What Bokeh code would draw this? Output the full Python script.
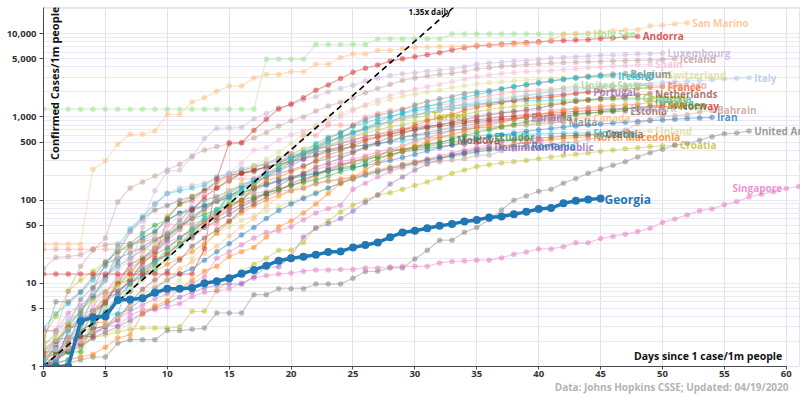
import math
from bokeh.plotting import figure
from bokeh.models import FixedTicker, NumeralTickFormatter, Label, Range1d, Title
from bokeh.embed import file_html
from bokeh.resources import INLINE
from bokeh.core.properties import value

# ---------------- data (cases per 1m people, day 0 = first day >= 1/1m) -------------
x_ticks = [0, 5, 10, 15, 20, 25, 30, 35, 40, 45, 50, 55, 60]
y_ticks = [1, 5, 10, 50, 100, 500, 1000, 5000, 10000]
y_minor = [2, 3, 4, 6, 7, 8, 9, 20, 30, 40, 60, 70, 80, 90, 200, 300, 400, 600, 700, 800, 900,
           2000, 3000, 4000, 6000, 7000, 8000, 9000, 20000]
growth_rate = 1.35

san_marino = [29.5, 29.5, 29.5, 29.5, 235, 296, 470, 620, 620, 680, 1070, 1070, 1510, 1700, 2040, 2350, 2350,
              2950, 3250, 3250, 3500, 3500, 4300, 4300, 5200, 5700, 5700, 6300, 6300, 6600, 6900, 6900, 7000,
              7000, 7100, 7300, 7300, 7300, 7400, 7500, 7700, 8500, 9800, 10000, 10200, 10500, 10800, 11100,
              11200, 12400, 12700, 13100, 13600]
holy_see = [1240, 1240, 1240, 1240, 1240, 1240, 1240, 1240, 1240, 1240, 1240, 1240, 1240, 1240, 1240, 1240,
            1240, 1240, 4950, 4950, 4950, 4950, 7430, 7430, 7430, 7430, 7430, 8670, 8670, 8670, 8670, 8670,
            8670, 9910, 9910, 9910, 9910, 9910, 9910, 9910, 9910, 9910, 9910, 9910, 9910]
andorra = [12.9, 12.9, 12.9, 12.9, 12.9, 12.9, 12.9, 12.9, 12.9, 12.9, 12.9, 12.9, 12.9, 26, 180, 490, 490,
           690, 940, 1250, 1430, 1700, 2100, 2430, 2900, 3450, 3850, 4200, 4700, 5000, 5300, 5600, 5930, 6400,
           6800, 7140, 7300, 7500, 7700, 7850, 8000, 8200, 8300, 8400, 8500, 8800, 8950, 9100, 9300]
luxembourg = [1.6, 1.6, 1.6, 3.2, 4.8, 11, 21, 42, 56, 130, 220, 230, 330, 550, 730, 740, 750, 950, 1100, 1290,
              1400, 1600, 1750, 2000, 2200, 2400, 2700, 2950, 3150, 3300, 3400, 3550, 3650, 3800, 4000, 4300,
              4450, 4550, 4700, 4750, 4900, 5100, 5200, 5300, 5400, 5500, 5550, 5600, 5700, 5750, 5830]
iceland = [2.7, 2.7, 8, 16, 25, 35, 95, 140, 165, 195, 230, 270, 340, 400, 440, 470, 490, 560, 650, 780, 900,
           1000, 1180, 1350, 1500, 1700, 1950, 2200, 2450, 2750, 2950, 3100, 3250, 3350, 3500, 3770, 3900, 4050,
           4150, 4250, 4350, 4450, 4500, 4550, 4600, 4650, 4700, 4750, 4800, 4850, 4920, 5000]
spain = [1.0, 1.3, 2.2, 3.3, 5.5, 7.3, 12, 13, 22, 36, 49, 65, 93, 120, 170, 210, 280, 400, 430, 530, 610, 680,
         750, 850, 1000, 1200, 1400, 1600, 1800, 2000, 2150, 2300, 2460, 2650, 2850, 3050, 3200, 3320, 3420,
         3500, 3550, 3600, 3700, 3800, 3900, 4000, 4100, 4150, 4230, 4300]
ireland = [1.2, 1.2, 2.6, 3.9, 3.9, 4.5, 7, 9.8, 14, 18, 26, 35, 46, 60, 76, 113, 138, 172, 208, 250, 310, 370,
           430, 500, 580, 650, 740, 870, 1000, 1120, 1240, 1350, 1450, 1580, 1720, 1860, 2000, 2170, 2320, 2450,
           2580, 2720, 2850, 2930, 3000, 3080, 3130]
belgium = [1.0, 1.1, 1.9, 4.3, 8.6, 17, 20, 23, 27, 34, 39, 48, 60, 77, 97, 107, 140, 160, 190, 230, 290, 350,
           420, 550, 640, 790, 930, 1050, 1120, 1220, 1400, 1530, 1650, 1750, 1920, 2000, 2080, 2180, 2300, 2430,
           2550, 2700, 2820, 2960, 3080, 3200, 3280, 3330]
switzerland = [1.0, 2.1, 2.8, 3.4, 4.3, 6.9, 9.1, 12, 24, 30, 39, 44, 60, 75, 100, 130, 160, 260, 310, 380, 480,
               620, 800, 950, 1100, 1250, 1350, 1450, 1620, 1770, 1880, 2000, 2100, 2250, 2370, 2490, 2570, 2630,
               2700, 2780, 2850, 2900, 2960, 3000, 3050, 3080, 3120, 3140, 3170, 3200, 3220]
italy = [1.03, 2.6, 3.8, 5.3, 7.5, 10.9, 14.7, 18.7, 28.1, 33.7, 41.5, 51.2, 63.9, 76.8, 97.5, 122, 152, 168,
         206, 206, 293, 350, 410, 464, 522, 592, 681, 779, 888, 980, 1059, 1146, 1232, 1335, 1433, 1532, 1618,
         1685, 1753, 1832, 1909, 1985, 2065, 2136, 2196, 2246, 2310, 2380, 2445, 2523, 2590, 2643, 2692, 2736,
         2799, 2857, 2915, 2965]
united_states = [1.2, 1.6, 2.0, 2.9, 3.8, 5.0, 6.6, 8.2, 11, 14, 20, 29, 45, 59, 76, 100, 130, 165, 210, 260,
                 310, 370, 430, 500, 570, 640, 720, 800, 890, 970, 1040, 1110, 1190, 1270, 1350, 1420, 1500, 1580,
                 1690, 1790, 1900, 2050, 2250, 2400]
monaco = [25.6, 25.6, 25.6, 25.6, 25.6, 25.6, 25.6, 25.6, 25.6, 25.6, 51, 51, 51, 51, 51, 180, 180, 180, 230,
          280, 360, 600, 600, 800, 800, 800, 1000, 1100, 1200, 1250, 1300, 1350, 1400, 1450, 1600, 1700, 1800,
          1900, 2000, 2050, 2100, 2150, 2200, 2250, 2300, 2300, 2350, 2350, 2400, 2400, 2400]
france = [1.5, 2.0, 2.9, 3.1, 4.4, 6.0, 9.9, 11, 18, 22, 27, 35, 44, 55, 69, 83, 100, 140, 170, 190, 220, 250,
          300, 350, 390, 450, 520, 570, 610, 690, 790, 900, 990, 1060, 1200, 1300, 1380, 1480, 1580, 1650, 1690,
          1720, 1810, 1900, 1990, 2050, 2110, 2170, 2210, 2260, 2300]
portugal = [1.3, 2.0, 2.9, 3.9, 4.0, 5.9, 7.8, 11, 17, 24, 33, 44, 64, 80, 100, 120, 150, 180, 210, 230, 260,
            310, 400, 500, 560, 640, 720, 820, 880, 1000, 1060, 1130, 1210, 1250, 1300, 1380, 1450, 1530, 1600,
            1690, 1760, 1830, 1870, 1940, 2000]
netherlands = [1.0, 1.4, 2.2, 2.3, 4.6, 6.9, 7.5, 11, 15, 19, 22, 30, 35, 47, 56, 67, 83, 100, 120, 150, 180,
               210, 250, 280, 320, 370, 430, 500, 570, 640, 700, 760, 810, 870, 930, 1000, 1060, 1110, 1160,
               1220, 1280, 1380, 1460, 1530, 1600, 1680, 1730, 1800, 1850, 1900]
germany = [1.8, 2.4, 3.2, 4.8, 6.3, 8.0, 10, 14, 14, 17, 25, 30, 42, 56, 70, 87, 100, 150, 190, 250, 290, 350,
           400, 450, 520, 580, 640, 700, 760, 810, 860, 920, 960, 1010, 1080, 1150, 1220, 1290, 1340, 1370, 1410,
           1450, 1500, 1550, 1580, 1620, 1650, 1680, 1700]
austria = [1.0, 1.1, 1.2, 2.7, 3.4, 4.2, 4.3, 11, 12, 15, 20, 28, 40, 56, 75, 90, 120, 140, 230, 280, 340, 370,
           480, 570, 650, 770, 850, 950, 1010, 1100, 1180, 1240, 1300, 1360, 1410, 1440, 1480, 1520, 1540, 1560,
           1570, 1580, 1600, 1610, 1620, 1630, 1640, 1645, 1650, 1660]
israel = [1.0, 1.1, 1.2, 1.3, 1.4, 1.7, 2.2, 2.4, 4.3, 5.3, 6.2, 8.6, 11, 14, 16, 21, 24, 27, 36, 48, 56, 70, 90,
          120, 160, 190, 230, 280, 330, 390, 440, 500, 560, 620, 680, 750, 800, 860, 930, 1000, 1070, 1150, 1200,
          1260, 1300, 1340, 1370, 1400, 1430, 1490]
sweden = [1.3, 1.4, 1.5, 1.5, 3.3, 5.9, 9.7, 13, 20, 25, 35, 49, 60, 67, 77, 90, 100, 110, 120, 135, 150, 165,
          175, 195, 220, 240, 270, 310, 350, 390, 430, 460, 490, 540, 600, 650, 700, 760, 820, 880, 920, 960,
          1000, 1060, 1100, 1150, 1200, 1250, 1300, 1350, 1400]
denmark = [1.7, 2.6, 3.5, 4.3, 4.7, 6.0, 11, 15, 47, 90, 120, 140, 150, 160, 180, 200, 240, 260, 270, 320, 350,
           380, 420, 450, 490, 530, 570, 620, 680, 730, 770, 820, 880, 940, 1000, 1050, 1100, 1130, 1160, 1180,
           1200, 1220, 1240, 1250, 1260, 1270, 1275, 1280]
norway = [1.1, 1.1, 2.8, 3.5, 4.6, 5.7, 10, 17, 20, 27, 37, 46, 75, 110, 140, 170, 210, 230, 250, 280, 320, 370,
          410, 440, 480, 530, 580, 620, 660, 710, 740, 770, 800, 840, 880, 920, 960, 1000, 1030, 1060, 1080, 1110,
          1140, 1170, 1190, 1210, 1240, 1260, 1280, 1300, 1320, 1340]
estonia = [1.5, 1.5, 1.5, 2.3, 2.3, 7.5, 8.3, 10, 12, 20, 60, 90, 100, 130, 170, 200, 210, 230, 250, 270, 290,
           320, 350, 400, 440, 490, 540, 580, 630, 660, 700, 740, 770, 800, 850, 880, 910, 940, 970, 1000, 1030,
           1060, 1080, 1100, 1120, 1140, 1160, 1180]
bahrain = [15, 20.5, 21, 22, 26, 29, 30, 30, 32, 34, 37, 52, 52, 58, 67, 119, 119, 119, 128, 130, 130, 139, 156,
           170, 174, 186, 204, 230, 239, 255, 279, 284, 290, 304, 314, 346, 347, 392, 410, 420, 427, 461, 495,
           502, 541, 564, 634, 693, 830, 932, 1019, 1037, 1061, 1147, 1200]
iran = [1.1, 1.7, 3.0, 4.7, 7.1, 11.8, 18.1, 28.1, 35.2, 42.3, 57.2, 70.2, 79.1, 86.3, 96.9, 108, 121, 137, 153,
        168, 181, 195, 209, 222, 237, 248, 261, 278, 299, 326, 354, 390, 427, 462, 500, 537, 573, 608, 641, 672,
        702, 729, 754, 778, 798, 822, 844, 864, 883, 902, 920, 940, 958, 974, 990]
canada = [1.2, 1.4, 1.6, 2.0, 2.5, 3.1, 4.0, 5.1, 7.4, 9.3, 11, 15, 18, 23, 28, 37, 48, 60, 85, 110, 130, 160,
          190, 220, 250, 290, 320, 350, 390, 440, 490, 530, 580, 620, 650, 680, 720, 750, 790, 830, 870, 900, 930,
          960, 980]
malta = [2.0, 6.0, 6.0, 8, 12, 18, 24, 42, 60, 76, 86, 100, 110, 130, 140, 180, 210, 220, 250, 270, 290, 310,
         340, 380, 410, 440, 460, 480, 500, 570, 600, 620, 650, 690, 710, 740, 750, 770, 790, 800, 830, 850, 870]
serbia = [2.7, 2.7, 4.4, 5.4, 6.9, 7.9, 12, 15, 19, 24, 31, 36, 43, 53, 65, 80, 100, 130, 150, 170, 190, 210,
          230, 260, 290, 310, 340, 380, 410, 450, 510, 560, 620, 680, 730, 780, 830, 880, 930, 980]
czechia = [1.0, 1.2, 1.7, 1.9, 2.9, 3.0, 3.6, 5.9, 8.5, 11, 14, 19, 28, 35, 44, 56, 76, 90, 110, 130, 160, 180,
           200, 240, 270, 290, 310, 330, 350, 380, 400, 420, 440, 460, 470, 490, 500, 520, 530, 550, 560, 570,
           590, 600, 610, 620]
slovenia = [2.9, 4.3, 5.7, 7.7, 11, 16, 28, 45, 63, 90, 120, 130, 140, 150, 190, 210, 230, 250, 270, 300, 330,
            350, 380, 400, 420, 440, 460, 480, 500, 520, 540, 560, 570, 580, 590, 600, 605, 610, 615, 620, 625,
            630, 635, 638, 640]
north_macedonia = [1.4, 1.4, 1.9, 1.9, 3.4, 3.4, 6.7, 9.6, 14, 14, 17, 20, 24, 30, 40, 55, 70, 85, 100, 115,
                   130, 140, 160, 170, 180, 190, 210, 230, 250, 270, 290, 310, 330, 350, 370, 400, 420, 450, 470,
                   490, 510, 530, 550, 565, 580]
finland = [1.1, 1.1, 1.2, 1.3, 2.7, 2.7, 2.7, 3.3, 4.4, 5.5, 7.6, 11, 20, 28, 40, 48, 57, 65, 75, 83, 95, 110,
           125, 140, 160, 180, 200, 215, 230, 240, 260, 280, 300, 330, 350, 380, 410, 440, 470, 500, 530, 550,
           570, 590, 610, 630, 640, 660, 670, 680]
croatia = [1.0, 1.2, 1.5, 1.7, 2.2, 2.4, 2.6, 2.8, 2.9, 2.9, 2.9, 3.0, 4.6, 4.6, 8.2, 11, 14, 17, 20, 25, 25,
           31, 47, 56, 72, 87, 100, 115, 123, 135, 150, 165, 185, 210, 230, 253, 267, 280, 290, 300, 315, 330,
           343, 355, 370, 385, 400, 415, 425, 440, 450, 460]
uae = [1.0, 1.0, 1.1, 1.2, 1.3, 1.3, 1.9, 2.1, 2.1, 2.1, 2.7, 2.7, 2.8, 2.9, 4.4, 4.4, 4.4, 7.3, 7.3, 8.6, 8.6,
       8.6, 9.8, 9.8, 9.8, 11.5, 13.9, 14, 15.3, 15.3, 19.6, 25, 33, 33, 41, 47, 58, 76, 100, 112, 128, 135, 160,
       182, 210, 236, 262, 290, 331, 372, 410, 457, 480, 525, 580, 630, 640, 680]
singapore = [1.2, 1.7, 2.2, 2.8, 2.8, 3.1, 3.1, 4.1, 4.8, 4.8, 5.2, 5.7, 6.9, 7.8, 8.1, 8.6, 10, 11.6, 12.4,
             12.9, 13.3, 14, 14.5, 14.5, 14.7, 14.7, 15.3, 15.3, 15.7, 16, 16, 16, 17.6, 18.3, 18.6, 19, 19, 20.2,
             22.4, 23.8, 25.9, 25.9, 27.6, 30.7, 30.7, 34.5, 36.6, 39, 41.9, 45.9, 54, 59.5, 66.4, 74.5, 78.4,
             87.8, 96.2, 109, 118, 126, 138, 146, 152]
chile = [1.0, 1.2, 1.5, 2.0, 2.4, 3.0, 3.8, 4.6, 5.5, 6.5, 7.5, 8.5, 10, 12, 20, 24, 29, 35, 41, 43, 48, 58, 70,
         79, 87, 135, 160, 190, 220, 250, 280, 310, 340, 370, 400, 430, 460, 500, 530]
dominican_republic = [1.0, 1.2, 1.5, 1.8, 2.2, 2.6, 3.0, 3.6, 4.3, 5.0, 5.8, 6.8, 7.8, 8.8, 9.5, 9.8, 9.8, 12,
                      15.8, 15.8, 21, 36, 46, 52, 60, 74, 94, 115, 156, 190, 230, 270, 310, 350, 380, 410, 433]
moldova = [1.0, 1.4, 2.0, 2.6, 3.4, 4.5, 6, 8, 12, 17, 23, 30, 38, 50, 62, 75, 90, 105, 120, 135, 150, 170, 200,
           230, 260, 290, 320, 350, 380, 410, 440, 470, 500, 530]
ecuador = [1.6, 2.1, 2.2, 3.2, 6.8, 11, 24, 30, 40, 50, 58, 69, 75, 85, 100, 115, 128, 140, 157, 175, 190, 200,
           215, 225, 245, 260, 300, 340, 400, 407, 420, 440, 470, 500, 530, 550, 575]
romania = [1.0, 1.3, 1.5, 2.3, 2.5, 3.0, 4.2, 5.0, 6.5, 8.7, 11, 13, 15, 19, 24, 30, 38, 47, 60, 75, 90, 105,
           120, 140, 160, 180, 200, 220, 240, 260, 280, 300, 320, 340, 360, 380, 400, 420, 440, 450]
turkey = [2.3, 4.0, 8.1, 11, 14, 18, 24, 28, 32, 40, 64, 89, 111, 130, 160, 190, 220, 250, 280, 320, 360, 410,
          460, 520, 580, 650, 720, 790, 860, 930, 990, 1030]
panama = [1.0, 2.0, 3.2, 6.4, 9.0, 12, 16, 20, 25, 32, 40, 57, 80, 100, 110, 130, 150, 170, 190, 210, 230, 260,
          290, 320, 350, 390, 430, 470, 520, 570, 610, 650, 700, 750, 790, 830, 870, 910, 950, 990]
georgia = [1.0, 1.0, 1.0, 3.5, 3.9, 4.0, 6.3, 6.4, 6.6, 7.7, 8.6, 8.6, 8.8, 10.0, 10.6, 11.5, 13.0, 14.5, 16.3,
           18.7, 20.0, 20.9, 22.0, 23.8, 24.2, 27.0, 28.9, 31.0, 35.7, 40.9, 42.8, 46.0, 49.3, 51.5, 55.5, 57.6,
           62, 63.7, 67.8, 72.3, 78.3, 80.4, 91.5, 98.2, 102, 105]

series = [
    ("Croatia", croatia), ("United Arab Emirates", uae), ("Singapore", singapore), ("Finland", finland),
    ("North Macedonia", north_macedonia), ("Slovenia", slovenia), ("Czechia", czechia), ("Chile", chile),
    ("Dominican Republic", dominican_republic), ("Moldova", moldova), ("Ecuador", ecuador),
    ("Romania", romania), ("Turkey", turkey), ("Panama", panama), ("Serbia", serbia), ("Malta", malta),
    ("Canada", canada), ("Iran", iran), ("Bahrain", bahrain), ("Estonia", estonia), ("Norway", norway),
    ("Denmark", denmark), ("Sweden", sweden), ("Israel", israel), ("Austria", austria),
    ("Germany", germany), ("Netherlands", netherlands), ("Portugal", portugal), ("France", france),
    ("Monaco", monaco), ("United States", united_states), ("Italy", italy), ("Switzerland", switzerland),
    ("Belgium", belgium), ("Ireland", ireland), ("Spain", spain), ("Iceland", iceland),
    ("Luxembourg", luxembourg), ("Andorra", andorra), ("Holy See", holy_see), ("San Marino", san_marino),
]

colors = {
    "San Marino": "#ffbb78", "Holy See": "#98df8a", "Andorra": "#d62728", "Luxembourg": "#c5b0d5",
    "Iceland": "#c49c94", "Spain": "#f7b6d2", "Ireland": "#17becf", "Belgium": "#7f7f7f",
    "Switzerland": "#dbdb8d", "Italy": "#aec7e8", "United States": "#98df8a", "Monaco": "#ff9896",
    "France": "#e6550d", "Portugal": "#9467bd", "Netherlands": "#8c564b", "Germany": "#bcbd22",
    "Austria": "#17becf", "Israel": "#ff7f0e", "Sweden": "#2ca02c", "Denmark": "#c5b0d5",
    "Norway": "#d62728", "Estonia": "#8c564b", "Bahrain": "#c49c94", "Iran": "#1f77b4",
    "Canada": "#ffbb78", "Malta": "#7f7f7f", "Serbia": "#e377c2", "Czechia": "#8c564b",
    "Slovenia": "#17becf", "North Macedonia": "#ff7f0e", "Finland": "#dbdb8d", "Croatia": "#bcbd22",
    "United Arab Emirates": "#7f7f7f", "Singapore": "#e377c2", "Chile": "#e377c2",
    "Dominican Republic": "#9467bd", "Moldova": "#8c564b", "Ecuador": "#2ca02c", "Romania": "#1f77b4",
    "Turkey": "#bcbd22", "Panama": "#7f7f7f",
}
highlight_color = "#1f77b4"

# ---------------- figure -------------
X_END = 61.15
Y_TOP = 20700
FONT = "Open Sans"

p = figure(frame_width=757, frame_height=359, x_range=Range1d(0, X_END), y_range=Range1d(1, Y_TOP),
           y_axis_type="log", output_backend="svg", toolbar_location=None,
           min_border_left=43, min_border_right=0, min_border_top=7, min_border_bottom=0)
p.background_fill_color = "white"
p.border_fill_color = "white"
p.outline_line_color = "#e6e2f0"

p.xaxis.ticker = FixedTicker(ticks=x_ticks)
p.xaxis.bounds = (0, 60)
p.yaxis.ticker = FixedTicker(ticks=y_ticks, minor_ticks=y_minor)
p.yaxis.formatter = NumeralTickFormatter(format="0,0")
for ax in (p.xaxis, p.yaxis):
    ax.axis_line_color = "#4a4a55"
    ax.major_tick_line_color = "#4a4a55"
    ax.minor_tick_line_color = None
    ax.major_tick_in = 0
    ax.major_tick_out = 4
    ax.major_label_standoff = 3
    ax.major_label_text_font = FONT
    ax.major_label_text_font_style = "bold"
    ax.major_label_text_color = "#333333"
p.xaxis.major_tick_out = 3
p.xaxis.major_label_standoff = 1
p.yaxis.major_label_text_font_size = "9.5px"
p.xaxis.major_label_text_font_size = "9.5px"

p.xgrid.grid_line_color = "#e4e0ef"
p.ygrid.grid_line_color = "#ebe8f4"
p.ygrid.minor_grid_line_color = "#ebe8f4"

for name, vals in series:
    xs = list(range(len(vals)))
    c = colors[name]
    p.line(xs, vals, line_color=c, line_alpha=0.42, line_width=1.2)
    p.scatter(xs, vals, size=5.5, fill_color=c, fill_alpha=0.5, line_color=None)

# reference growth line
d_end = math.log(Y_TOP) / math.log(growth_rate)
p.line([0, d_end], [1, Y_TOP], line_color="black", line_width=1.6, line_dash="6 4")

# highlighted country
gx = list(range(len(georgia)))
p.line(gx, georgia, line_color=highlight_color, line_width=3.5)
p.scatter(gx, georgia, size=8, fill_color=highlight_color, line_color=None)

# end labels
for name, vals in series:
    c = colors[name]
    last = len(vals) - 1
    if last > 60:
        p.text([60], [vals[60]], text=[name], text_color=c, text_alpha=0.8,
               text_font=value(FONT), text_font_size="10px", text_font_style="bold",
               text_align="right", text_baseline="middle", x_offset=-4, y_offset=-1)
    else:
        p.text([last], [vals[last]], text=[name], text_color=c, text_alpha=0.8,
               text_font=value(FONT), text_font_size="10px", text_font_style="bold",
               text_align="left", text_baseline="middle", x_offset=5)
p.text([len(georgia) - 1], [georgia[-1]], text=["Georgia"], text_color=highlight_color,
       text_font=value(FONT), text_font_size="12px", text_font_style="bold",
       text_align="left", text_baseline="middle", x_offset=4, y_offset=1)

p.add_layout(Label(x=0, y=Y_TOP, x_offset=3, y_offset=1, angle=math.pi / 2,
                   text="Confirmed Cases/1m people", text_font=FONT, text_font_style="bold",
                   text_font_size="11px", text_color="#111111", text_align="right",
                   text_baseline="top"))
p.add_layout(Label(x=60, y=1, x_offset=-4, y_offset=4, text="Days since 1 case/1m people",
                   text_font=FONT, text_font_style="bold", text_font_size="10.5px",
                   text_color="#111111", text_align="right", text_baseline="bottom"))
p.add_layout(Label(x=d_end, y=Y_TOP, x_offset=-3, y_offset=2, text=f"{growth_rate}x daily",
                   text_font=FONT, text_font_style="bold", text_font_size="8px",
                   text_color="#111111", text_align="right", text_baseline="top"))
p.add_layout(Title(text="Data: Johns Hopkins CSSE; Updated: 04/19/2020", align="right",
                   vertical_align="top", text_font=FONT, text_font_style="bold",
                   text_font_size="10px", text_color="#b3b3b3", standoff=0, offset=12), "below")

open("out.html", "w").write(file_html(p, INLINE))
